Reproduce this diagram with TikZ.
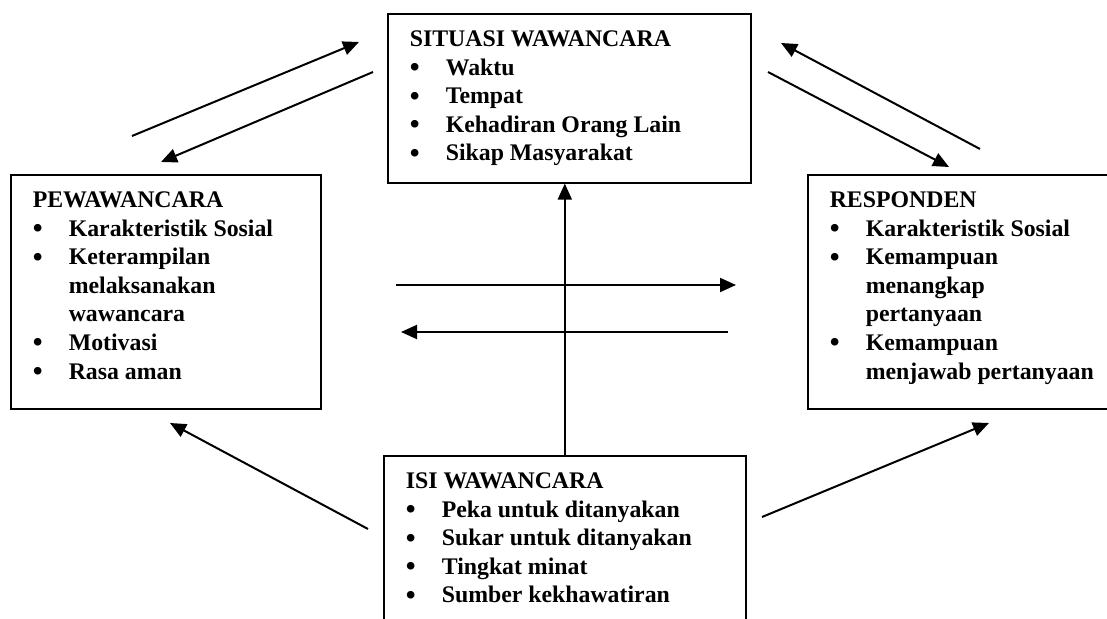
\documentclass[tikz,border=0pt]{standalone}
\usepackage{fontspec}
\setmainfont{Liberation Serif}
\usetikzlibrary{arrows.meta}
\newcommand*{\bt}{\par\noindent\hangindent=18pt\hangafter=1%
  \makebox[18pt][l]{\raisebox{-0.7pt}{\fontsize{14}{14}\selectfont\textbullet}}}

\begin{document}
\begin{tikzpicture}[x=0.5pt, y=-0.5pt,
    block_box/.style ={rectangle, draw=black, line width=0.8pt, fill=white,
      anchor=north west, inner xsep=11pt, inner ysep=8.5pt,
      font=\bfseries\fontsize{11.9}{14.3}\selectfont},
    line/.style ={draw, line width=1pt, -{Triangle[length=8pt,width=7pt]}}]
    \useasboundingbox (0,0) rectangle (1107,619);
    \clip (0,0) rectangle (1107,619);
    % top box
    \node [block_box] (situasi) at (387,13) {\parbox[c][67.5pt][t]{159.5pt}{\raggedright\bfseries
      SITUASI WAWANCARA
      \bt Waktu
      \bt Tempat
      \bt Kehadiran Orang Lain
      \bt Sikap Masyarakat}};
    % left box
    \node [block_box] (pewawancara) at (10,174) {\parbox[c][100pt][t]{133pt}{\raggedright\bfseries
      PEWAWANCARA
      \bt Karakteristik Sosial
      \bt Keterampilan\newline melaksanakan\newline wawancara
      \bt Motivasi
      \bt Rasa aman}};
    % right box (runs past the right edge)
    \node [block_box] (responden) at (807,174) {\parbox[c][100pt][t]{142pt}{\raggedright\bfseries
      RESPONDEN
      \bt Karakteristik Sosial
      \bt Kemampuan\newline menangkap\newline pertanyaan
      \bt Kemampuan\newline menjawab pertanyaan}};
    % bottom box (runs past the bottom edge)
    \node [block_box] (isi) at (383,455) {\parbox[c][83pt][t]{159pt}{\raggedright\bfseries
      ISI WAWANCARA
      \bt Peka untuk ditanyakan
      \bt Sukar untuk ditanyakan
      \bt Tingkat minat
      \bt Sumber kekhawatiran}};
    % free ends of the arrows
    \coordinate (pw_up_a) at (132,136);
    \coordinate (pw_up_b) at (359,42);
    \coordinate (pw_dn_a) at (373,72);
    \coordinate (pw_dn_b) at (161,162);
    \coordinate (rs_up_a) at (980,149);
    \coordinate (rs_up_b) at (781,43);
    \coordinate (rs_dn_a) at (768,72);
    \coordinate (rs_dn_b) at (949,167);
    \coordinate (mid_r_a) at (396,285);
    \coordinate (mid_r_b) at (736,285);
    \coordinate (mid_l_a) at (728,332);
    \coordinate (mid_l_b) at (401,332);
    \coordinate (isi_l_a) at (368,529);
    \coordinate (isi_l_b) at (170,423);
    \coordinate (isi_r_a) at (762,517);
    \coordinate (isi_r_b) at (989,423);
    % connecting with paths
    \begin{scope}[every path/.style=line]
      \path (pw_up_a) -- (pw_up_b);
      \path (pw_dn_a) -- (pw_dn_b);
      \path (rs_up_a) -- (rs_up_b);
      \path (rs_dn_a) -- (rs_dn_b);
      \path (mid_r_a) -- (mid_r_b);
      \path (mid_l_a) -- (mid_l_b);
      \path (isi.north) -- (isi.north |- situasi.south);
      \path (isi_l_a) -- (isi_l_b);
      \path (isi_r_a) -- (isi_r_b);
    \end{scope}
\end{tikzpicture}
\end{document}
